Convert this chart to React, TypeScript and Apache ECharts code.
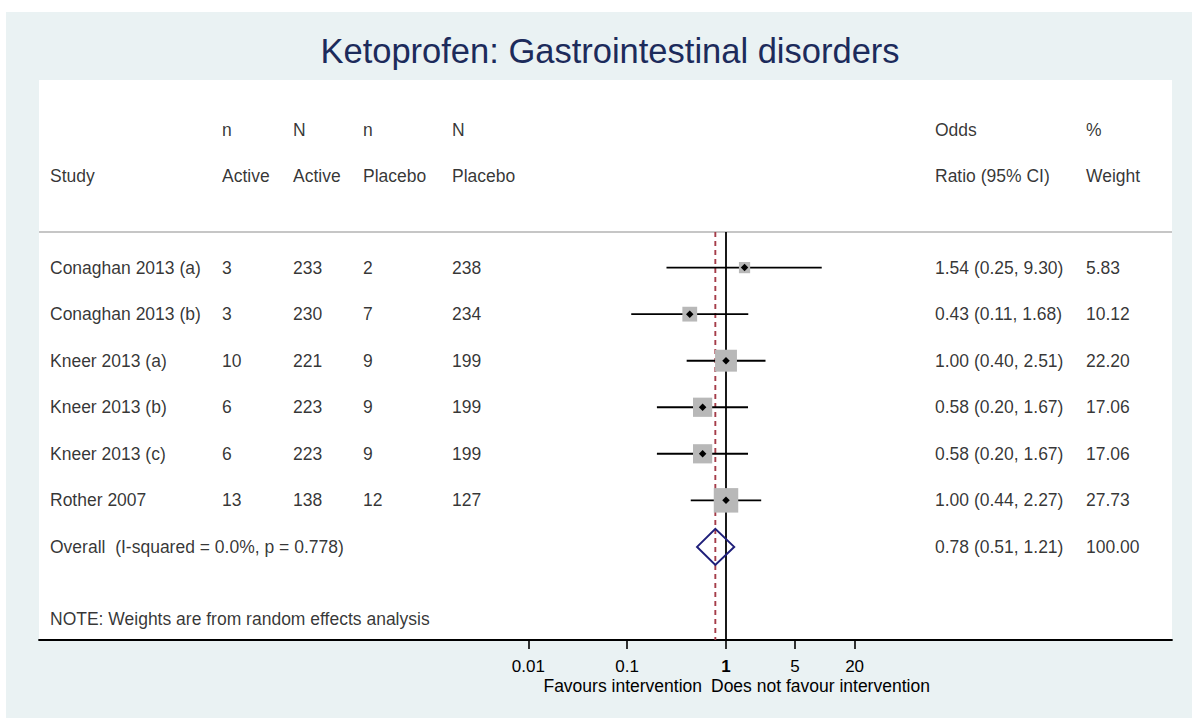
import React, { useEffect, useRef } from "react";
import * as echarts from "echarts";

// ---------- data ----------
const studies = [
  "Conaghan 2013 (a)",
  "Conaghan 2013 (b)",
  "Kneer 2013 (a)",
  "Kneer 2013 (b)",
  "Kneer 2013 (c)",
  "Rother 2007",
];
const nActive = [3, 3, 10, 6, 6, 13];
const NActive = [233, 230, 221, 223, 223, 138];
const nPlacebo = [2, 7, 9, 9, 9, 12];
const NPlacebo = [238, 234, 199, 199, 199, 127];
const oddsRatio = [1.54, 0.43, 1.0, 0.58, 0.58, 1.0];
const ciLow = [0.25, 0.11, 0.4, 0.2, 0.2, 0.44];
const ciHigh = [9.3, 1.68, 2.51, 1.67, 1.67, 2.27];
const weights = [5.83, 10.12, 22.2, 17.06, 17.06, 27.73];
const overallEstimate = [0.78, 0.51, 1.21]; // OR, low, high
const overallWeight = 100.0;
const overallLabel = "Overall  (I-squared = 0.0%, p = 0.778)";
const noteText = "NOTE: Weights are from random effects analysis";
const tickValues = [0.01, 0.1, 1, 5, 20];
const tickLabels = ["0.01", "0.1", "1", "5", "20"];
const headerRow1 = ["", "n", "N", "n", "N", "Odds", "%"];
const headerRow2 = ["Study", "Active", "Active", "Placebo", "Placebo", "Ratio (95% CI)", "Weight"];
const titleText = "Ketoprofen: Gastrointestinal disorders";
const favoursLeft = "Favours intervention";
const favoursRight = "Does not favour intervention";

// ---------- layout ----------
const FONT = "'Liberation Sans', Arial, Helvetica, sans-serif";
const colX = [50, 222, 293, 363, 452, 935, 1086]; // page-pixel column starts
const ROW_H1 = -2.96;
const ROW_H2 = -1.97;
const ROW_SEP = -0.765;
const ROW_OVERALL = 6;
const ROW_NOTE = 7.55;
const Y_MIN = -4.03;
const Y_MAX = 8;
const X_LOG_MIN = (39 - 726) / 98.85;
const X_LOG_MAX = (1172 - 726) / 98.85;

const fmt2 = (v: number) => v.toFixed(2);

export default function App() {
  const ref = useRef<HTMLDivElement>(null);

  useEffect(() => {
    if (!ref.current) return;
    const chart = echarts.init(ref.current, undefined, { renderer: "svg" });

    // text table data [pageX, row, text]
    const textData: any[] = [];
    headerRow1.forEach((t, c) => t && textData.push([colX[c], ROW_H1, t]));
    headerRow2.forEach((t, c) => t && textData.push([colX[c], ROW_H2, t]));
    studies.forEach((s, i) => {
      const cells = [
        s,
        String(nActive[i]),
        String(NActive[i]),
        String(nPlacebo[i]),
        String(NPlacebo[i]),
        `${fmt2(oddsRatio[i])} (${fmt2(ciLow[i])}, ${fmt2(ciHigh[i])})`,
        fmt2(weights[i]),
      ];
      cells.forEach((t, c) => textData.push([colX[c], i, t]));
    });
    textData.push([colX[0], ROW_OVERALL, overallLabel]);
    textData.push([
      colX[5],
      ROW_OVERALL,
      `${fmt2(overallEstimate[0])} (${fmt2(overallEstimate[1])}, ${fmt2(overallEstimate[2])})`,
    ]);
    textData.push([colX[6], ROW_OVERALL, fmt2(overallWeight)]);
    textData.push([colX[0], ROW_NOTE, noteText]);

    const ciData = studies.map((_, i) => [Math.log10(ciLow[i]), Math.log10(ciHigh[i]), i]);
    const boxData = studies.map((_, i) => [Math.log10(oddsRatio[i]), i, weights[i]]);
    const refLineData = [
      [0, ROW_SEP, Y_MAX, 0],
      [Math.log10(overallEstimate[0]), ROW_SEP, Y_MAX, 1],
    ];

    const option: any = {
      animation: false,
      backgroundColor: "#eaf2f3",
      textStyle: { fontFamily: FONT },
      grid: {
        left: 33,
        right: 20,
        top: 68,
        bottom: 78,
        show: true,
        backgroundColor: "#ffffff",
        borderWidth: 0,
      },
      xAxis: [
        {
          type: "value",
          min: X_LOG_MIN,
          max: X_LOG_MAX,
          splitLine: { show: false },
          axisLine: { show: true, onZero: false, lineStyle: { color: "#000", width: 1.8 } },
          axisTick: {
            show: true,
            length: 9,
            lineStyle: { color: "#000", width: 1.6 },
            customValues: tickValues.map((v) => Math.log10(v)),
          },
          axisLabel: {
            show: true,
            margin: 18,
            fontSize: 17,
            fontFamily: FONT,
            color: "#000",
            customValues: tickValues.map((v) => Math.log10(v)),
            formatter: (v: number) => {
              const idx = tickValues.findIndex((t) => Math.abs(Math.log10(t) - v) < 1e-6);
              if (idx < 0) return "";
              return tickValues[idx] === 1 ? `{b|${tickLabels[idx]}}` : tickLabels[idx];
            },
            rich: {
              b: { fontWeight: "bold", fontSize: 17, fontFamily: FONT, color: "#000" },
            },
          },
        },
        {
          type: "value",
          min: 39,
          max: 1172,
          show: false,
        },
      ],
      yAxis: {
        type: "value",
        inverse: true,
        min: Y_MIN,
        max: Y_MAX,
        show: false,
      },
      graphic: [
        {
          type: "text",
          x: 604,
          y: 39,
          style: {
            text: titleText,
            font: `34.5px ${FONT}`,
            fill: "#1c2b5b",
            align: "center",
            verticalAlign: "middle",
          },
        },
        {
          type: "text",
          x: 696,
          y: 674,
          style: {
            text: favoursLeft,
            font: `17.5px ${FONT}`,
            fill: "#000",
            align: "right",
            verticalAlign: "middle",
          },
        },
        {
          type: "text",
          x: 705,
          y: 674,
          style: {
            text: favoursRight,
            font: `17.5px ${FONT}`,
            fill: "#000",
            align: "left",
            verticalAlign: "middle",
          },
        },
      ],
      series: [
        {
          name: "separator",
          type: "custom",
          xAxisIndex: 1,
          z: 1,
          silent: true,
          data: [[39, 1172, ROW_SEP]],
          renderItem: (params: any, api: any) => {
            const a = api.coord([api.value(0), api.value(2)]);
            const b = api.coord([api.value(1), api.value(2)]);
            return {
              type: "line",
              shape: { x1: a[0], y1: a[1], x2: b[0], y2: b[1] },
              style: { stroke: "#c6c6c6", lineWidth: 1.8 },
            };
          },
        },
        {
          name: "reference",
          type: "custom",
          z: 2,
          silent: true,
          data: refLineData,
          renderItem: (params: any, api: any) => {
            const a = api.coord([api.value(0), api.value(1)]);
            const b = api.coord([api.value(0), api.value(2)]);
            const dashed = api.value(3) === 1;
            return {
              type: "line",
              shape: { x1: a[0], y1: a[1], x2: b[0], y2: b[1] },
              style: dashed
                ? { stroke: "#a53c49", lineWidth: 1.9, lineDash: [5, 4] }
                : { stroke: "#000", lineWidth: 1.8 },
            };
          },
        },
        {
          name: "ci",
          type: "custom",
          z: 3,
          silent: true,
          data: ciData,
          renderItem: (params: any, api: any) => {
            const a = api.coord([api.value(0), api.value(2)]);
            const b = api.coord([api.value(1), api.value(2)]);
            return {
              type: "line",
              shape: { x1: a[0], y1: a[1], x2: b[0], y2: b[1] },
              style: { stroke: "#000", lineWidth: 1.9 },
            };
          },
        },
        {
          name: "boxes",
          type: "scatter",
          z: 4,
          silent: true,
          symbol: "rect",
          symbolSize: (val: any) => 4.65 * Math.sqrt(val[2]),
          itemStyle: { color: "#b8b8b8", opacity: 1 },
          data: boxData,
        },
        {
          name: "points",
          type: "scatter",
          z: 5,
          silent: true,
          symbol: "diamond",
          symbolSize: 7.5,
          itemStyle: { color: "#000", opacity: 1 },
          data: boxData.map((d) => [d[0], d[1]]),
        },
        {
          name: "overall",
          type: "custom",
          z: 6,
          silent: true,
          data: [[
            Math.log10(overallEstimate[0]),
            Math.log10(overallEstimate[1]),
            Math.log10(overallEstimate[2]),
            ROW_OVERALL,
          ]],
          renderItem: (params: any, api: any) => {
            const c = api.coord([api.value(0), api.value(3)]);
            const l = api.coord([api.value(1), api.value(3)]);
            const r = api.coord([api.value(2), api.value(3)]);
            const h = 18;
            return {
              type: "polygon",
              shape: {
                points: [
                  [l[0], l[1]],
                  [c[0], c[1] - h],
                  [r[0], r[1]],
                  [c[0], c[1] + h],
                ],
              },
              style: { fill: "none", stroke: "#1f1f7a", lineWidth: 2 },
            };
          },
        },
        {
          name: "table",
          type: "scatter",
          xAxisIndex: 1,
          z: 7,
          silent: true,
          symbolSize: 0,
          itemStyle: { color: "rgba(0,0,0,0)" },
          data: textData,
          label: {
            show: true,
            position: "right",
            distance: 0,
            formatter: (p: any) => p.data[2],
            fontSize: 17.5,
            fontFamily: FONT,
            color: "#000",
            align: "left",
            verticalAlign: "middle",
          },
        },
      ],
    };

    chart.setOption(option);
    return () => chart.dispose();
  }, []);

  return (
    <div
      ref={ref}
      style={{ position: "fixed", left: 6, top: 12, width: 1186, height: 706 }}
    />
  );
}
